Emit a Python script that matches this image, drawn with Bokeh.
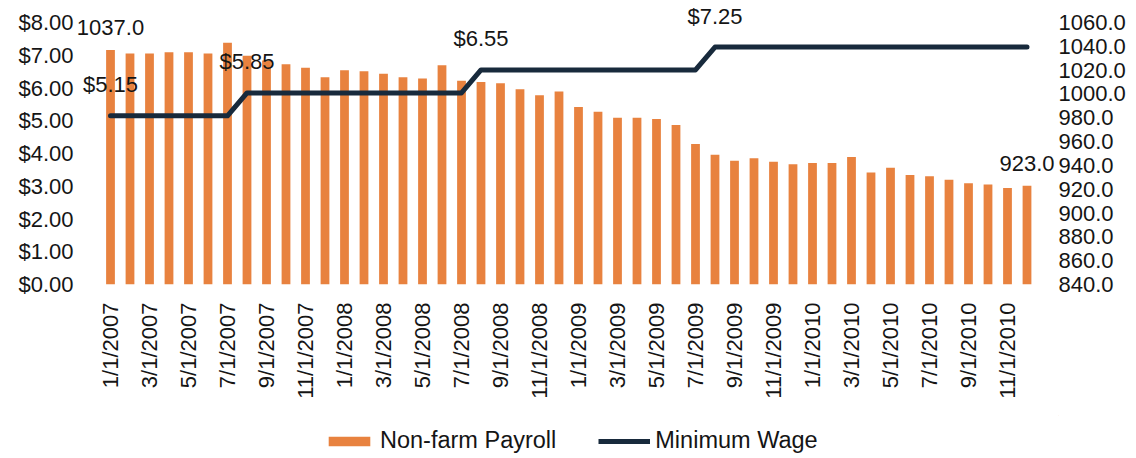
import math
from bokeh.plotting import figure
from bokeh.layouts import column
from bokeh.models import (Range1d, LinearAxis, FixedTicker, NumeralTickFormatter,
                          ColumnDataSource, LabelSet, Legend, LegendItem)
from bokeh.core.properties import value
from bokeh.embed import file_html
from bokeh.resources import INLINE

# ---------------- data ----------------
months = ["1/1/2007", "2/1/2007", "3/1/2007", "4/1/2007", "5/1/2007", "6/1/2007",
          "7/1/2007", "8/1/2007", "9/1/2007", "10/1/2007", "11/1/2007", "12/1/2007",
          "1/1/2008", "2/1/2008", "3/1/2008", "4/1/2008", "5/1/2008", "6/1/2008",
          "7/1/2008", "8/1/2008", "9/1/2008", "10/1/2008", "11/1/2008", "12/1/2008",
          "1/1/2009", "2/1/2009", "3/1/2009", "4/1/2009", "5/1/2009", "6/1/2009",
          "7/1/2009", "8/1/2009", "9/1/2009", "10/1/2009", "11/1/2009", "12/1/2009",
          "1/1/2010", "2/1/2010", "3/1/2010", "4/1/2010", "5/1/2010", "6/1/2010",
          "7/1/2010", "8/1/2010", "9/1/2010", "10/1/2010", "11/1/2010", "12/1/2010"]

payroll = [1037, 1034, 1034, 1035, 1035, 1034, 1043, 1032, 1028, 1025, 1022, 1014,
           1020, 1019, 1017, 1014, 1013, 1024, 1011, 1010, 1009, 1004, 999, 1002,
           989, 985, 980, 980, 979, 974, 958, 949, 944, 946, 943, 941,
           942, 942, 947, 934, 938, 932, 931, 928, 925, 924, 921, 923]

min_wage = [5.15, 5.15, 5.15, 5.15, 5.15, 5.15, 5.15, 5.85, 5.85, 5.85, 5.85, 5.85,
            5.85, 5.85, 5.85, 5.85, 5.85, 5.85, 5.85, 6.55, 6.55, 6.55, 6.55, 6.55,
            6.55, 6.55, 6.55, 6.55, 6.55, 6.55, 6.55, 7.25, 7.25, 7.25, 7.25, 7.25,
            7.25, 7.25, 7.25, 7.25, 7.25, 7.25, 7.25, 7.25, 7.25, 7.25, 7.25, 7.25]

left_ticks = [0, 1, 2, 3, 4, 5, 6, 7, 8]
right_ticks = [840, 860, 880, 900, 920, 940, 960, 980, 1000, 1020, 1040, 1060]
label_step = 2
series_names = ["Non-farm Payroll", "Minimum Wage"]

# ---------------- layout (pixels) ----------------
W, H = 1136, 458
LEG_H = 43                         # strip below the chart holding the legend
MAIN_H = H - LEG_H
FRAME_L, FRAME_R = 75, 1058        # plot frame edges
FRAME_T, FRAME_B = 2, 284
BAR0_PX, BAR_STEP = 110, 19.5      # centre of first bar, bar pitch
AXIS_TOP_PX = 22                   # where the top tick (8 / 1060) sits
LEGEND_X = 323                     # left edge of legend (page pixels)

FONT = "Liberation Sans"
FS = "22px"
LEG_FS = "23.5px"
BAR_COLOR = "#e8823f"
LINE_COLOR = "#182a3c"
TEXT_COLOR = "#151515"

n = len(months)
idx = list(range(n))

x0 = -(BAR0_PX - FRAME_L) / BAR_STEP
x1 = (n - 1) + (FRAME_R - (BAR0_PX + (n - 1) * BAR_STEP)) / BAR_STEP
span_px = FRAME_B - AXIS_TOP_PX
frame_h = FRAME_B - FRAME_T
ly0, ly1 = left_ticks[0], left_ticks[-1]
ry0, ry1 = right_ticks[0], right_ticks[-1]
left_end = ly0 + (ly1 - ly0) * frame_h / span_px
right_end = ry0 + (ry1 - ry0) * frame_h / span_px

p = figure(width=W, height=MAIN_H, output_backend="svg", toolbar_location=None,
           x_range=Range1d(x0, x1), y_range=Range1d(ly0, left_end),
           min_border_left=FRAME_L, min_border_right=W - FRAME_R,
           min_border_top=FRAME_T, min_border_bottom=MAIN_H - FRAME_B)
p.extra_y_ranges = {"payroll": Range1d(ry0, right_end)}
p.outline_line_color = None
p.xgrid.visible = False
p.ygrid.visible = False
p.background_fill_color = "white"
p.border_fill_color = "white"

src = ColumnDataSource(dict(x=idx, payroll=payroll, wage=min_wage, month=months))

bars = p.vbar(x="x", top="payroll", bottom=ry0, width=0.45,
              y_range_name="payroll", source=src,
              fill_color=BAR_COLOR, line_color=None)
line = p.line(x="x", y="wage", source=src, line_color=LINE_COLOR, line_width=5,
              line_join="round", line_cap="round")

def style_axis(ax):
    ax.axis_line_color = None
    ax.major_tick_line_color = None
    ax.minor_tick_line_color = None
    ax.major_tick_out = 0
    ax.major_tick_in = 0
    ax.major_label_text_font = FONT
    ax.major_label_text_font_size = FS
    ax.major_label_text_color = TEXT_COLOR

xa = p.xaxis[0]
style_axis(xa)
xa.ticker = FixedTicker(ticks=idx[::label_step])
xa.major_label_overrides = {i: months[i] for i in idx[::label_step]}
xa.major_label_orientation = math.pi / 2
xa.major_label_standoff = 18

ya = p.yaxis[0]
style_axis(ya)
ya.ticker = FixedTicker(ticks=left_ticks)
ya.formatter = NumeralTickFormatter(format="$0.00")
ya.major_label_standoff = 2

ra = LinearAxis(y_range_name="payroll")
style_axis(ra)
ra.ticker = FixedTicker(ticks=right_ticks)
ra.formatter = NumeralTickFormatter(format="0.0")
ra.major_label_standoff = 0
p.add_layout(ra, "right")

# wage labels at start and at each change
wi = [0] + [i for i in range(1, n) if min_wage[i] != min_wage[i - 1]]
wsrc = ColumnDataSource(dict(x=wi, y=[min_wage[i] for i in wi],
                             t=["$%.2f" % min_wage[i] for i in wi]))
p.add_layout(LabelSet(x="x", y="y", text="t", source=wsrc, y_offset=31,
                      text_align="center", text_baseline="middle",
                      text_font=value(FONT), text_font_size=value(FS),
                      text_color=TEXT_COLOR))

# payroll labels at first and last bar
pi_ = [0, n - 1]
psrc = ColumnDataSource(dict(x=pi_, y=[payroll[i] for i in pi_],
                             t=["%.1f" % payroll[i] for i in pi_]))
p.add_layout(LabelSet(x="x", y="y", text="t", source=psrc, y_offset=22,
                      y_range_name="payroll",
                      text_align="center", text_baseline="middle",
                      text_font=value(FONT), text_font_size=value(FS),
                      text_color=TEXT_COLOR))

# ---------------- legend strip ----------------
# (its frame is aligned with the main chart's frame by the column layout)
lf = figure(width=W, height=LEG_H, output_backend="svg", toolbar_location=None,
            x_range=Range1d(0, 1), y_range=Range1d(0, 1),
            x_axis_type=None, y_axis_type=None,
            min_border_left=FRAME_L, min_border_right=W - FRAME_R,
            min_border_top=0, min_border_bottom=0)
lf.outline_line_color = None
lf.xgrid.visible = False
lf.ygrid.visible = False
# off-screen proxies that only provide the legend swatches
lb = lf.vbar(x=[5], top=[5], bottom=[4], width=0.1,
             fill_color=BAR_COLOR, line_color=None)
ll = lf.line(x=[5, 6], y=[5, 5], line_color=LINE_COLOR, line_width=5)
legend = Legend(items=[LegendItem(label=series_names[0], renderers=[lb]),
                       LegendItem(label=series_names[1], renderers=[ll])],
                orientation="horizontal", location=(LEGEND_X - FRAME_L, 4),
                glyph_width=52, glyph_height=12, label_standoff=5, spacing=42,
                padding=0, margin=0, border_line_alpha=0, background_fill_alpha=0,
                label_text_font=FONT, label_text_font_size=LEG_FS,
                label_text_color=TEXT_COLOR)
lf.add_layout(legend)

open("out.html", "w").write(file_html(column(p, lf, spacing=0), INLINE))
